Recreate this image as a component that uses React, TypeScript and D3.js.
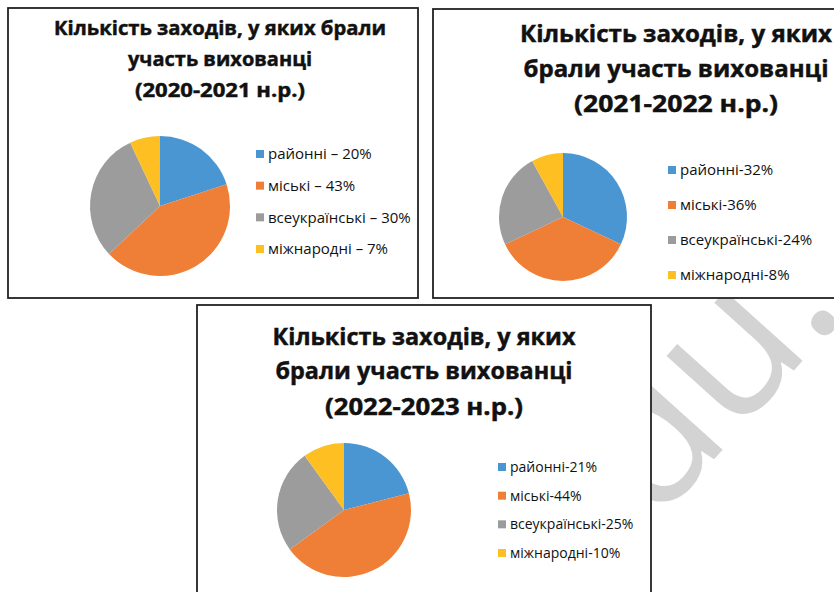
import React from 'react';
import * as d3 from 'd3';

// категорії та значення з трьох діаграм
const categories = ['районні', 'міські', 'всеукраїнські', 'міжнародні'];
const colors = ['#4a96d2', '#ef7f37', '#9c9c9c', '#fdbf22'];

const values2020 = [20, 43, 30, 7];
const values2021 = [32, 36, 24, 8];
const values2022 = [21, 44, 25, 10];

const title2020 = ['Кількість заходів, у яких брали', 'участь вихованці', '(2020-2021 н.р.)'];
const title2021 = ['Кількість заходів, у яких', 'брали участь вихованці', '(2021-2022 н.р.)'];
const title2022 = ['Кількість заходів, у яких', 'брали участь вихованці', '(2022-2023 н.р.)'];

const FONT = '"Open Sans", "Noto Sans", sans-serif';

const charts = [
  {
    title: title2020, values: values2020, sep: ' – ',
    box: {x: 8, y: 8, w: 410, h: 290},
    titleX: 220, titleY: [35, 66, 97], titleSize: 19, titleWidths: [332, 184, 170],
    cx: 160, cy: 206, r: 70,
    legendX: 256, legendY: [154, 249], legendSize: 15,
  },
  {
    title: title2021, values: values2021, sep: '-',
    box: {x: 433, y: 9, w: 420, h: 289},
    titleX: 676, titleY: [42, 77, 112], titleSize: 23, titleWidths: [312, 305, 204],
    cx: 563, cy: 217, r: 64,
    legendX: 668, legendY: [170, 275], legendSize: 15,
  },
  {
    title: title2022, values: values2022, sep: '-',
    box: {x: 197, y: 305, w: 454, h: 300},
    titleX: 424, titleY: [345, 379, 415], titleSize: 23, titleWidths: [303, 297, 198],
    cx: 344, cy: 510, r: 67,
    legendX: 498, legendY: [467, 553], legendSize: 14,
  },
];

const PieChart = ({cfg}) => {
  const pie = d3.pie().sort(null).value(d => d);
  const arcs = pie(cfg.values);
  const arc = d3.arc().innerRadius(0).outerRadius(cfg.r);
  const rowY = d3.scaleLinear().domain([0, categories.length - 1]).range(cfg.legendY);

  return (
    <g>
      <rect x={cfg.box.x} y={cfg.box.y} width={cfg.box.w} height={cfg.box.h}
        fill="#fff" stroke="#222" strokeWidth={1.8} />
      {cfg.title.map((line, i) => (
        <text key={i} x={cfg.titleX} y={cfg.titleY[i]} textAnchor="middle"
          fontFamily={FONT} fontWeight="bold" fontSize={cfg.titleSize} fill="#111"
          stroke="#111" strokeWidth={0.45}
          textLength={cfg.titleWidths[i]} lengthAdjust="spacingAndGlyphs">
          {line}
        </text>
      ))}
      <g transform={`translate(${cfg.cx},${cfg.cy})`}>
        {arcs.map((a, i) => (
          <path key={i} d={arc(a)} fill={colors[i]} />
        ))}
      </g>
      {categories.map((c, i) => (
        <g key={c} transform={`translate(${cfg.legendX},${rowY(i)})`}>
          <rect x={0} y={-4} width={8} height={8} fill={colors[i]} />
          <text x={12} dy="0.36em" fontFamily={FONT} fontSize={cfg.legendSize} fill="#111">
            {`${c}${cfg.sep}${cfg.values[i]}%`}
          </text>
        </g>
      ))}
    </g>
  );
};

const App = () => {
  return (
    <div style={{position: 'absolute', left: 0, top: 0}}>
      <svg width={834} height={592} style={{display: 'block', background: '#fff'}}>
        {/* водяний знак під рамками */}
        <text transform="translate(654,526) rotate(-48)" fontFamily={FONT}
          fontSize={195} fill="#d3d3d3">du.</text>
        {charts.map((cfg, i) => <PieChart key={i} cfg={cfg} />)}
      </svg>
    </div>
  );
};

export default App;
